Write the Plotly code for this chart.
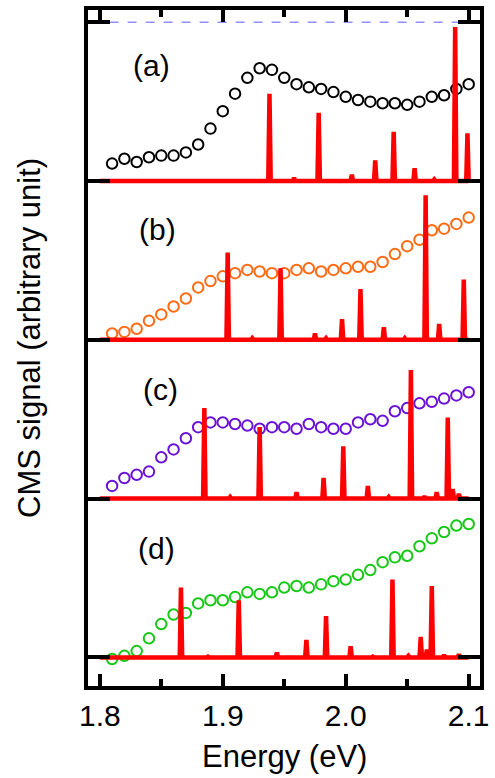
import plotly.graph_objects as go

# ---------------- data ----------------
energy = [1.81, 1.82, 1.83, 1.84, 1.85, 1.86, 1.87, 1.88, 1.89, 1.90,
          1.91, 1.92, 1.93, 1.94, 1.95, 1.96, 1.97, 1.98, 1.99, 2.00,
          2.01, 2.02, 2.03, 2.04, 2.05, 2.06, 2.07, 2.08, 2.09, 2.10]

sig_a = [0.11, 0.14, 0.12, 0.15, 0.16, 0.16, 0.18, 0.23, 0.33, 0.44,
         0.55, 0.65, 0.71, 0.70, 0.65, 0.61, 0.59, 0.58, 0.56, 0.53,
         0.51, 0.50, 0.49, 0.49, 0.48, 0.50, 0.53, 0.54, 0.58, 0.61]
sig_b = [0.04, 0.05, 0.07, 0.12, 0.16, 0.21, 0.26, 0.33, 0.37, 0.40,
         0.42, 0.44, 0.43, 0.42, 0.42, 0.44, 0.45, 0.43, 0.44, 0.45,
         0.46, 0.46, 0.49, 0.54, 0.59, 0.63, 0.69, 0.70, 0.73, 0.77]
sig_c = [0.08, 0.13, 0.15, 0.17, 0.26, 0.31, 0.38, 0.45, 0.48, 0.48,
         0.47, 0.46, 0.44, 0.45, 0.45, 0.44, 0.47, 0.45, 0.44, 0.44,
         0.48, 0.50, 0.49, 0.55, 0.57, 0.60, 0.61, 0.63, 0.65, 0.67]
sig_d = [-0.01, 0.01, 0.04, 0.12, 0.21, 0.27, 0.28, 0.34, 0.36, 0.36,
         0.38, 0.41, 0.40, 0.41, 0.44, 0.45, 0.44, 0.46, 0.48, 0.49,
         0.52, 0.55, 0.60, 0.63, 0.64, 0.70, 0.75, 0.79, 0.83, 0.84]

peak_e_a = [1.938, 1.958, 1.978, 2.005, 2.024, 2.039, 2.056, 2.072, 2.089, 2.099]
peak_h_a = [0.55, 0.02, 0.43, 0.04, 0.13, 0.31, 0.08, 0.01, 0.97, 0.30]
peak_e_b = [1.904, 1.924, 1.947, 1.975, 1.984, 1.997, 2.012, 2.031, 2.048, 2.065, 2.076, 2.096]
peak_h_b = [0.55, 0.01, 0.45, 0.04, 0.01, 0.13, 0.32, 0.08, 0.01, 0.91, 0.10, 0.38]
peak_e_c = [1.885, 1.906, 1.930, 1.960, 1.970, 1.982, 1.998, 2.018, 2.035, 2.053,
            2.064, 2.074, 2.083, 2.087, 2.092]
peak_h_c = [0.57, 0.01, 0.45, 0.04, 0.005, 0.13, 0.33, 0.08, 0.01, 0.81,
            0.015, 0.04, 0.51, 0.06, 0.03]
peak_e_d = [1.866, 1.888, 1.913, 1.944, 1.968, 1.984, 2.004, 2.022, 2.038, 2.051,
            2.061, 2.066, 2.070, 2.080, 2.092]
peak_h_d = [0.44, 0.005, 0.36, 0.03, 0.11, 0.26, 0.07, 0.005, 0.49, 0.01,
            0.13, 0.05, 0.45, 0.015, 0.02]

spectrum_range = [1.80, 2.10]
ref_line_x = [1.808, 2.092]
ref_line_level = 4

panel_labels = ["(a)", "(b)", "(c)", "(d)"]
panel_offsets = [3, 2, 1, 0]
label_e = [1.842, 1.847, 1.849, 1.846]
label_y = [0.725, 0.694, 0.6875, 0.6875]
circle_colors = ["#000000", "#ff6a13", "#6a12d6", "#16c816"]

x_ticks = [1.8, 1.9, 2.0, 2.1]
x_ticktext = ["1.8", "1.9", "2.0", "2.1"]
x_minor_ticks = [1.85, 1.95, 2.05]

FONT = "Arial, 'Liberation Sans', sans-serif"

signals = [sig_a, sig_b, sig_c, sig_d]
peaks = [(peak_e_a, peak_h_a), (peak_e_b, peak_h_b), (peak_e_c, peak_h_c), (peak_e_d, peak_h_d)]


def stick_spectrum(pe, ph, base, hw=0.001):
    xs = [spectrum_range[0]]
    ys = [base]
    for e, h in sorted(zip(pe, ph)):
        xs += [e - hw, e, e + hw]
        ys += [base, base + h, base]
    xs.append(spectrum_range[1])
    ys.append(base)
    return xs, ys


fig = go.Figure()

fig.add_trace(go.Scatter(
    x=ref_line_x, y=[ref_line_level] * len(ref_line_x), mode="lines",
    line=dict(color="#9090ff", width=1.5, dash="dash"), showlegend=False, hoverinfo="skip"))

for sig, off, col in zip(signals, panel_offsets, circle_colors):
    fig.add_trace(go.Scatter(
        x=energy, y=[v + off for v in sig], mode="markers",
        marker=dict(symbol="circle-open", size=10.5, color=col, line=dict(width=2, color=col)),
        showlegend=False))

for (pe, ph), off in zip(peaks, panel_offsets):
    xs, ys = stick_spectrum(pe, ph, off)
    fig.add_trace(go.Scatter(
        x=xs, y=ys, mode="lines", line=dict(color="#ff0000", width=4.5),
        showlegend=False))

for lab, le, ly, off in zip(panel_labels, label_e, label_y, panel_offsets):
    fig.add_annotation(x=le, y=ly + off, text=lab, showarrow=False,
                       font=dict(family=FONT, size=30, color="black"),
                       xanchor="center", yanchor="middle")

L, R, T, B = 88, 9, 6, 92
W, H = 495, 778
ph_px = H - T - B
pw_px = W - L - R

fig.add_annotation(xref="paper", yref="paper",
                   x=(28 - L) / pw_px, y=(H - B - 336) / ph_px,
                   text="CMS signal (arbitrary unit)", textangle=-90, showarrow=False,
                   font=dict(family=FONT, size=31, color="black"),
                   xanchor="center", yanchor="middle")
fig.add_annotation(xref="paper", yref="paper",
                   x=(288 - L) / pw_px, y=(H - B - 757) / ph_px,
                   text="Energy (eV)", showarrow=False,
                   font=dict(family=FONT, size=31, color="black"),
                   xanchor="center", yanchor="middle")

fig.update_layout(
    width=W, height=H,
    margin=dict(l=L, r=R, t=T, b=B, pad=0),
    paper_bgcolor="white", plot_bgcolor="white",
    font=dict(family=FONT, color="black"),
    xaxis=dict(range=[1.7904, 2.1092], tickmode="array", tickvals=x_ticks, ticktext=x_ticktext,
               ticks="inside", ticklen=12, tickwidth=4, tickcolor="black",
               minor=dict(ticks="inside", ticklen=7, tickwidth=4, tickcolor="black",
                          tickvals=x_minor_ticks),
               showline=True, linewidth=4, linecolor="black", mirror="ticks",
               showgrid=False, zeroline=False,
               tickfont=dict(family=FONT, size=30, color="black")),
    yaxis=dict(range=[-0.18, 4.077], tickmode="array", tickvals=[0, 1, 2, 3, 4],
               ticks="inside", ticklen=22, tickwidth=4, tickcolor="black",
               showticklabels=False,
               showline=True, linewidth=4, linecolor="black", mirror="ticks",
               showgrid=False, zeroline=False),
)

fig.write_html("out.html",
               config={"displayModeBar": False},
               post_script="document.body.style.margin='0';document.documentElement.style.margin='0';document.body.style.overflow='hidden';")
